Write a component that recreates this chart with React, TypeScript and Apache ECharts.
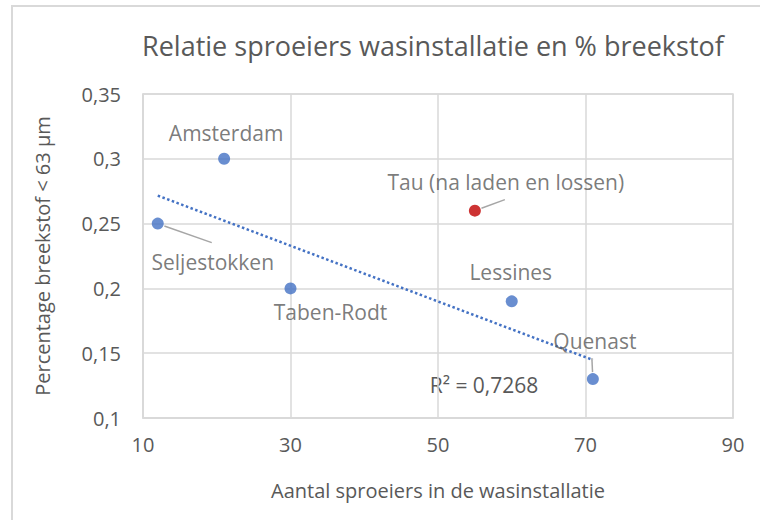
import React, { useEffect, useRef } from 'react';
import * as echarts from 'echarts';

const titleText = 'Relatie sproeiers wasinstallatie en % breekstof';
const xAxisName = 'Aantal sproeiers in de wasinstallatie';
const yAxisName = 'Percentage breekstof < 63 µm';

const sites = ['Amsterdam', 'Seljestokken', 'Taben-Rodt', 'Lessines', 'Quenast'];
const sproeiers = [21, 12, 30, 60, 71];
const breekstof = [0.3, 0.25, 0.2, 0.19, 0.13];

const tauName = 'Tau (na laden en lossen)';
const tauSproeiers = [55];
const tauBreekstof = [0.26];

const xTicks = [10, 30, 50, 70, 90];
const yTicks = [0.1, 0.15, 0.2, 0.25, 0.3, 0.35];

// label centre offset (px) from its point, and optional leader-line end offset from the label centre
const labelPlace: Record<string, { off: [number, number]; line?: [number, number] }> = {
  Amsterdam: { off: [2, -26] },
  Seljestokken: { off: [55, 38], line: [-1, -19] },
  'Taben-Rodt': { off: [40, 24] },
  Lessines: { off: [-1, -29] },
  Quenast: { off: [2, -38], line: [-3, 17] },
  [tauName]: { off: [31, -29], line: [-1, 18] },
};

function linearFit(xs: number[], ys: number[]) {
  const n = xs.length;
  const mx = xs.reduce((a, b) => a + b, 0) / n;
  const my = ys.reduce((a, b) => a + b, 0) / n;
  let sxx = 0, sxy = 0, syy = 0;
  for (let i = 0; i < n; i++) {
    sxx += (xs[i] - mx) ** 2;
    sxy += (xs[i] - mx) * (ys[i] - my);
    syy += (ys[i] - my) ** 2;
  }
  const slope = sxy / sxx;
  const intercept = my - slope * mx;
  const r2 = (sxy * sxy) / (sxx * syy);
  return { slope, intercept, r2 };
}

const FONT = '"Open Sans", sans-serif';
const GREY = '#595959';
const GRID = '#d9d9d9';
const LEADER = '#a6a6a6';
const SYMBOL = 12;

export default function App() {
  const ref = useRef<HTMLDivElement>(null);
  useEffect(() => {
    const chart = echarts.init(ref.current!, null, { renderer: 'svg' });
    const fit = linearFit(sproeiers, breekstof);
    const xMin = Math.min(...sproeiers);
    const xMax = Math.max(...sproeiers);
    const trend = [
      [xMin, fit.intercept + fit.slope * xMin],
      [xMax, fit.intercept + fit.slope * xMax],
    ];
    const r2Text = 'R² = ' + fit.r2.toFixed(4).replace('.', ',');

    const labelFor = (name: string) => ({
      show: true,
      position: 'inside' as const,
      formatter: name,
      color: GREY,
      fontSize: 21,
      fontFamily: FONT,
      align: 'center' as const,
      verticalAlign: 'middle' as const,
    });

    const mkLayout = (names: string[]) => (params: any) => {
      const p = labelPlace[names[params.dataIndex]];
      const r = params.rect;
      const cx = r.x + r.width / 2;
      const cy = r.y + r.height / 2;
      return { x: cx + p.off[0], y: cy + p.off[1], align: 'center', verticalAlign: 'middle' };
    };

    const fmtComma = (v: number) => String(v).replace('.', ',');

    const baseGraphic: any[] = [
      {
        id: 'frame',
        type: 'rect',
        shape: { x: 12, y: 6, width: 760, height: 530 },
        style: { fill: 'none', stroke: GRID, lineWidth: 2 },
        silent: true,
        z: -10,
      },
      {
        id: 'r2',
        type: 'text',
        x: 484,
        y: 385,
        style: {
          text: r2Text,
          fill: GREY,
          fontSize: 21,
          fontFamily: FONT,
          align: 'center',
          verticalAlign: 'middle',
        },
      },
    ];

    chart.setOption({
      animation: false,
      backgroundColor: '#ffffff',
      textStyle: { fontFamily: FONT },
      title: {
        text: titleText,
        left: 137,
        top: 27,
        textStyle: { color: GREY, fontSize: 27, fontWeight: 'normal', fontFamily: FONT },
      },
      grid: {
        left: 143,
        right: 27,
        top: 94,
        bottom: 102,
        show: true,
        borderColor: GRID,
        borderWidth: 1.5,
      },
      xAxis: {
        type: 'value',
        min: xTicks[0],
        max: xTicks[xTicks.length - 1],
        interval: 20,
        name: xAxisName,
        nameLocation: 'middle',
        nameGap: 62,
        nameTextStyle: { color: GREY, fontSize: 20, fontFamily: FONT },
        axisLine: { show: true, lineStyle: { color: GRID, width: 1.5 } },
        axisTick: { show: false },
        axisLabel: { color: GREY, fontSize: 20, margin: 16, fontFamily: FONT },
        splitLine: { show: true, lineStyle: { color: GRID, width: 1.5 } },
      },
      yAxis: {
        type: 'value',
        min: yTicks[0],
        max: yTicks[yTicks.length - 1],
        interval: 0.05,
        name: yAxisName,
        nameLocation: 'middle',
        nameGap: 91,
        nameTextStyle: { color: GREY, fontSize: 20, fontFamily: FONT },
        axisLine: { show: true, lineStyle: { color: GRID, width: 1.5 } },
        axisTick: { show: false },
        axisLabel: { color: GREY, fontSize: 20, margin: 22, fontFamily: FONT, formatter: (v: number) => fmtComma(+v.toFixed(2)) },
        splitLine: { show: true, lineStyle: { color: GRID, width: 1.5 } },
      },
      series: [
        {
          name: 'trend',
          type: 'line',
          data: trend,
          symbol: 'none',
          silent: true,
          lineStyle: { color: '#4472c4', width: 2.5, type: [2.5, 2.5] },
          z: 1,
        },
        {
          name: 'sites',
          type: 'scatter',
          symbolSize: SYMBOL,
          itemStyle: { color: '#4472c4' },
          data: sites.map((n, i) => ({ value: [sproeiers[i], breekstof[i]], label: labelFor(n) })),
          labelLayout: mkLayout(sites),
          z: 3,
        },
        {
          name: 'tau',
          type: 'scatter',
          symbolSize: SYMBOL,
          itemStyle: { color: '#c00000' },
          data: tauSproeiers.map((x, i) => ({ value: [x, tauBreekstof[i]], label: labelFor(tauName) })),
          labelLayout: mkLayout([tauName]),
          z: 3,
        },
      ],
      graphic: baseGraphic,
    });

    // leader lines, anchored through the chart's own coordinate conversion
    const allNames = [...sites, tauName];
    const allX = [...sproeiers, ...tauSproeiers];
    const allY = [...breekstof, ...tauBreekstof];
    const leaders: any[] = [];
    allNames.forEach((n, i) => {
      const p = labelPlace[n];
      if (!p.line) return;
      const [cx, cy] = chart.convertToPixel({ gridIndex: 0 }, [allX[i], allY[i]]) as number[];
      const ex = cx + p.off[0] + p.line[0];
      const ey = cy + p.off[1] + p.line[1];
      const d = Math.hypot(ex - cx, ey - cy) || 1;
      const rad = SYMBOL / 2 + 1;
      leaders.push({
        id: 'leader-' + i,
        type: 'line',
        silent: true,
        z: 5,
        shape: { x1: cx + ((ex - cx) / d) * rad, y1: cy + ((ey - cy) / d) * rad, x2: ex, y2: ey },
        style: { stroke: LEADER, lineWidth: 1.5 },
      });
    });
    chart.setOption({ graphic: [...baseGraphic, ...leaders] });

    return () => chart.dispose();
  }, []);
  return (
    <div
      ref={ref}
      style={{ position: 'fixed', left: 0, top: 0, width: 760, height: 520, background: '#fff' }}
    />
  );
}
